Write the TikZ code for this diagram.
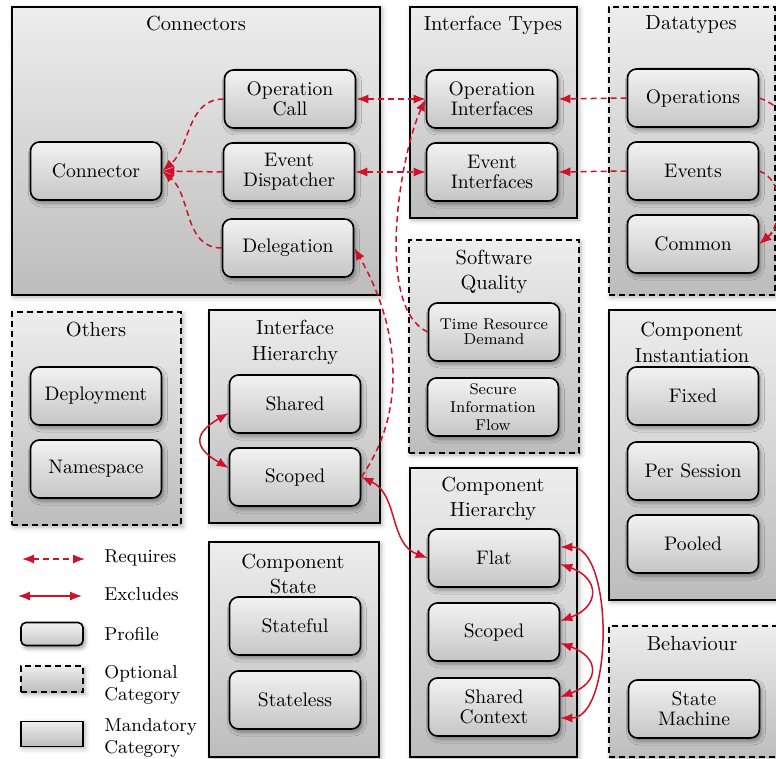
\documentclass[tikz,border=0pt]{standalone}
\usetikzlibrary{arrows.meta,shadows.blur}

\definecolor{linkred}{RGB}{208,17,42}

\newcommand\catfont{\fontsize{10.2}{12.6}\selectfont}
\newcommand\proffont{\fontsize{9.8}{10}\selectfont}
\newcommand\trdfont{\fontsize{7.8}{7.6}\selectfont}
\newcommand\siffont{\fontsize{7.8}{9}\selectfont}
\newcommand\legfont{\fontsize{9.3}{11}\selectfont}

\tikzset{
  category/.style={draw=black, line width=0.65pt, top color=gray!14, bottom color=gray!52,
    inner sep=0pt,
    blur shadow={shadow xshift=1pt, shadow yshift=-1pt, shadow blur radius=2.5pt, shadow opacity=30}},
  mandatory/.style={category},
  optional/.style={category, dash pattern=on 3pt off 2pt},
  profile/.style={draw=black, line width=0.8pt, rounded corners=4.5pt,
    top color=gray!10, bottom color=gray!45,
    minimum width=65.5pt, minimum height=29pt, align=center, inner sep=1pt, font=\proffont,
    blur shadow={shadow xshift=1pt, shadow yshift=-1.5pt, shadow blur radius=2pt, shadow opacity=40}},
  cattitle/.style={align=center, font=\catfont, inner sep=0pt},
  legtext/.style={align=left, anchor=west, font=\legfont, inner sep=0pt},
  redtip/.tip={Latex[length=6pt,width=4.6pt]},
  requires/.style={color=linkred, line width=0.75pt, dash pattern=on 3pt off 2pt, -redtip},
  requires both/.style={requires, redtip-redtip},
  excludes/.style={color=linkred, line width=0.75pt, redtip-redtip},
}

\begin{document}
\begin{tikzpicture}[x=0.5pt, y=0.5pt]
\useasboundingbox (0,0) rectangle (776,-759);

% ---------- categories ----------
\node[mandatory, minimum width=184pt, minimum height=144pt]  (connbox) at (196,-151) {};
\node[mandatory, minimum width=83.5pt, minimum height=105.5pt] (itbox) at (493.5,-112.5) {};
\node[optional,  minimum width=83pt, minimum height=144pt]   (dtbox) at (692,-151) {};
\node[optional,  minimum width=85pt, minimum height=106.5pt] (sqbox) at (494,-346.5) {};
\node[optional,  minimum width=84.5pt, minimum height=106.5pt] (othbox) at (96.5,-418.5) {};
\node[mandatory, minimum width=85.5pt, minimum height=106.5pt] (ihbox) at (294.5,-416.5) {};
\node[mandatory, minimum width=84.5pt, minimum height=145pt] (cibox) at (693.5,-455) {};
\node[mandatory, minimum width=83.5pt, minimum height=144.5pt] (chbox) at (493.5,-612.5) {};
\node[mandatory, minimum width=85pt, minimum height=107.5pt] (csbox) at (294,-649.5) {};
\node[optional,  minimum width=84.5pt, minimum height=65.5pt] (behbox) at (693.5,-691.5) {};

% ---------- category titles ----------
\node[cattitle] (conntitle) at (196,-24) {Connectors};
\node[cattitle] (ittitle) at (493,-25) {Interface Types};
\node[cattitle] (dttitle) at (691,-25) {Datatypes};
\node[cattitle] (sqtitle) at (494,-271.5) {Software\\Quality};
\node[cattitle] (othtitle) at (96,-330) {Others};
\node[cattitle] (ihtitle) at (295,-342.5) {Interface\\Hierarchy};
\node[cattitle] (cititle) at (692,-342.5) {Component\\Instantiation};
\node[cattitle] (chtitle) at (493,-499) {Component\\Hierarchy};
\node[cattitle] (cstitle) at (293,-574) {Component\\State};
\node[cattitle] (behtitle) at (692,-644) {Behaviour};

% ---------- profiles ----------
\node[profile] (conn) at (96,-171) {Connector};
\node[profile] (opcall) at (290,-99) {Operation\\Call};
\node[profile] (evdisp) at (289,-172) {Event\\Dispatcher};
\node[profile] (deleg) at (288,-248) {Delegation};
\node[profile] (opint) at (492,-99) {Operation\\Interfaces};
\node[profile] (evint) at (492,-172) {Event\\Interfaces};
\node[profile] (operations) at (693,-98) {Operations};
\node[profile] (events) at (693,-171) {Events};
\node[profile] (common) at (693,-244) {Common};
\node[profile, font=\trdfont] (trd) at (494,-332) {Time Resource\\Demand};
\node[profile, font=\siffont] (sif) at (493,-407) {Secure\\Information\\Flow};
\node[profile] (deploy) at (96,-396) {Deployment};
\node[profile] (namesp) at (96,-469) {Namespace};
\node[profile] (ihshared) at (295,-404) {Shared};
\node[profile] (ihscoped) at (295,-477) {Scoped};
\node[profile] (fixed) at (693,-396) {Fixed};
\node[profile] (persession) at (693,-471) {Per Session};
\node[profile] (pooled) at (693,-544) {Pooled};
\node[profile] (flat) at (494,-558) {Flat};
\node[profile] (chscoped) at (494,-632) {Scoped};
\node[profile] (sharedctx) at (494,-707) {Shared\\Context};
\node[profile] (statemach) at (694,-709) {State\\Machine};
\node[profile] (stateful) at (295,-626) {Stateful};
\node[profile] (stateless) at (295,-700) {Stateless};

% ---------- legend ----------
\coordinate (rqa) at (22,-559);
\coordinate (rqb) at (85,-559);
\draw[requires both] (rqa) -- (rqb);
\node[legtext] (rqtext) at (104,-558) {Requires};
\coordinate (exa) at (18,-596);
\coordinate (exb) at (82,-596);
\draw[excludes] (exa) -- (exb);
\node[legtext] (extext) at (104,-594) {Excludes};
\node[profile, minimum width=31pt, minimum height=11.5pt, rounded corners=2.5pt] (legprof) at (52,-634) {};
\node[legtext] (proftext) at (104,-634) {Profile};
\node[optional, minimum width=31pt, minimum height=13pt] (legopt) at (52,-679) {};
\node[legtext] (opttext) at (104,-685) {Optional\\Category};
\node[mandatory, minimum width=31pt, minimum height=12.5pt] (legman) at (52,-734) {};
\node[legtext] (mantext) at (104,-738) {Mandatory\\Category};

% ---------- requires relations ----------
\draw[requires] (opcall.west) to[out=180,in=40] (conn.east);
\draw[requires] (evdisp.west) -- (conn.east);
\draw[requires] (deleg.west) to[out=180,in=-40] (conn.east);
\draw[requires both] (opcall.east) -- (opint.west);
\draw[requires both] (evdisp.east) -- (evint.west);
\draw[requires] (operations.west) -- (opint.east);
\draw[requires] (events.west) -- (evint.east);
\draw[requires] (operations.east) to[out=-20,in=40,looseness=1.1] (common.east);
\draw[requires] (events.east) to[out=-20,in=40] (common.east);
\draw[requires] (trd.west) to[out=155,in=245,looseness=0.65] (opint.west);
\draw[requires] (ihscoped.east) to[out=55,in=-60,looseness=0.95] (deleg.east);

% ---------- excludes relations ----------
\draw[excludes] (ihscoped.east) to[out=-25,in=160] (flat.west);
\draw[excludes] ([yshift=-4.5pt]ihshared.west) to[out=210,in=150,looseness=1.9] ([yshift=4.5pt]ihscoped.west);
\draw[excludes] ([yshift=-3pt]flat.east) to[out=-20,in=20,looseness=1.9] ([yshift=5.5pt]chscoped.east);
\draw[excludes] ([yshift=-5.5pt]chscoped.east) to[out=-20,in=20,looseness=2] ([yshift=5pt]sharedctx.east);
\draw[excludes] ([yshift=5.5pt]flat.east) to[out=0,in=0,looseness=0.8] ([yshift=-5.5pt]sharedctx.east);
\end{tikzpicture}
\end{document}
